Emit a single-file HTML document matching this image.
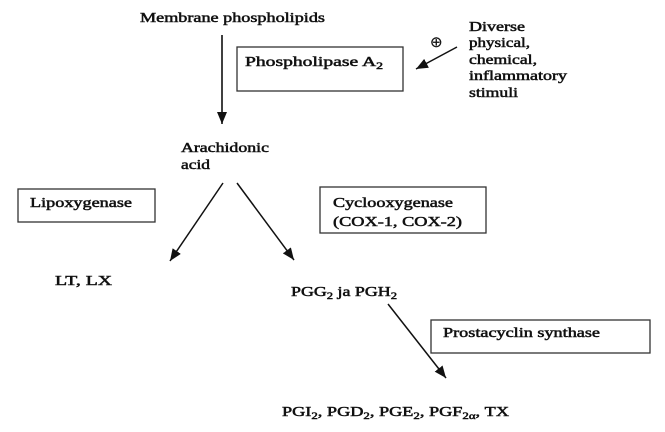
<!DOCTYPE html>
<html><head><meta charset="utf-8"><style>
html,body{margin:0;padding:0;background:#fff;}
svg{display:block;}
text{font-family:"Liberation Serif","Times New Roman",serif;font-size:13.5px;fill:#111;stroke:#111;stroke-width:0.5;}
.sub{font-size:9.5px;}
</style></head><body>
<svg width="665" height="432" viewBox="0 0 665 432" xmlns="http://www.w3.org/2000/svg" font-family="Liberation Serif, serif">
<defs>
<marker id="ah" markerUnits="userSpaceOnUse" markerWidth="13" markerHeight="11" refX="12" refY="5" orient="auto">
<path d="M0,0 L12,5 L0,10 z" fill="#111"/>
</marker>
</defs>
<rect width="665" height="432" fill="#fff"/>

<text x="140" y="22" textLength="185" lengthAdjust="spacingAndGlyphs">Membrane phospholipids</text>

<line x1="222" y1="35" x2="222" y2="124" stroke="#111" stroke-width="1.6" marker-end="url(#ah)"/>

<rect x="237" y="47" width="166" height="44" fill="none" stroke="#333" stroke-width="1.3"/>
<text x="245" y="66" textLength="138" lengthAdjust="spacingAndGlyphs">Phospholipase A<tspan class="sub" dy="3">2</tspan></text>

<text x="430" y="47" style="font-size:15px;stroke-width:0.2">⊕</text>
<line x1="457" y1="47" x2="416" y2="69" stroke="#111" stroke-width="1.5" marker-end="url(#ah)"/>

<text x="469" y="31" textLength="56" lengthAdjust="spacingAndGlyphs">Diverse</text>
<text x="469" y="47" textLength="61" lengthAdjust="spacingAndGlyphs">physical,</text>
<text x="469" y="64" textLength="68" lengthAdjust="spacingAndGlyphs">chemical,</text>
<text x="469" y="80" textLength="98" lengthAdjust="spacingAndGlyphs">inflammatory</text>
<text x="469" y="97" textLength="49" lengthAdjust="spacingAndGlyphs">stimuli</text>

<text x="181" y="152" textLength="88" lengthAdjust="spacingAndGlyphs">Arachidonic</text>
<text x="181" y="169" textLength="29" lengthAdjust="spacingAndGlyphs">acid</text>

<rect x="18" y="189" width="137" height="33" fill="none" stroke="#333" stroke-width="1.3"/>
<text x="30" y="207" textLength="102" lengthAdjust="spacingAndGlyphs">Lipoxygenase</text>

<line x1="223" y1="183" x2="170" y2="261" stroke="#111" stroke-width="1.5" marker-end="url(#ah)"/>
<line x1="237" y1="183" x2="294" y2="260" stroke="#111" stroke-width="1.5" marker-end="url(#ah)"/>

<rect x="320" y="187" width="166" height="46" fill="none" stroke="#333" stroke-width="1.3"/>
<text x="333" y="207" textLength="120" lengthAdjust="spacingAndGlyphs">Cyclooxygenase</text>
<text x="333" y="226" textLength="129" lengthAdjust="spacingAndGlyphs">(COX-1, COX-2)</text>

<text x="55" y="285" textLength="57" lengthAdjust="spacingAndGlyphs">LT, LX</text>

<text x="291" y="296" textLength="106" lengthAdjust="spacingAndGlyphs">PGG<tspan class="sub" dy="3">2</tspan><tspan dy="-3"> ja PGH</tspan><tspan class="sub" dy="3">2</tspan></text>

<line x1="388" y1="304" x2="446" y2="378" stroke="#111" stroke-width="1.5" marker-end="url(#ah)"/>

<rect x="431" y="320" width="219" height="33" fill="none" stroke="#333" stroke-width="1.3"/>
<text x="443" y="337" textLength="157" lengthAdjust="spacingAndGlyphs">Prostacyclin synthase</text>

<text x="282" y="416" textLength="227" lengthAdjust="spacingAndGlyphs">PGI<tspan class="sub" dy="3">2</tspan><tspan dy="-3">, PGD</tspan><tspan class="sub" dy="3">2</tspan><tspan dy="-3">, PGE</tspan><tspan class="sub" dy="3">2</tspan><tspan dy="-3">, PGF</tspan><tspan class="sub" dy="3">2α</tspan><tspan dy="-3">, TX</tspan></text>
</svg>
</body></html>
